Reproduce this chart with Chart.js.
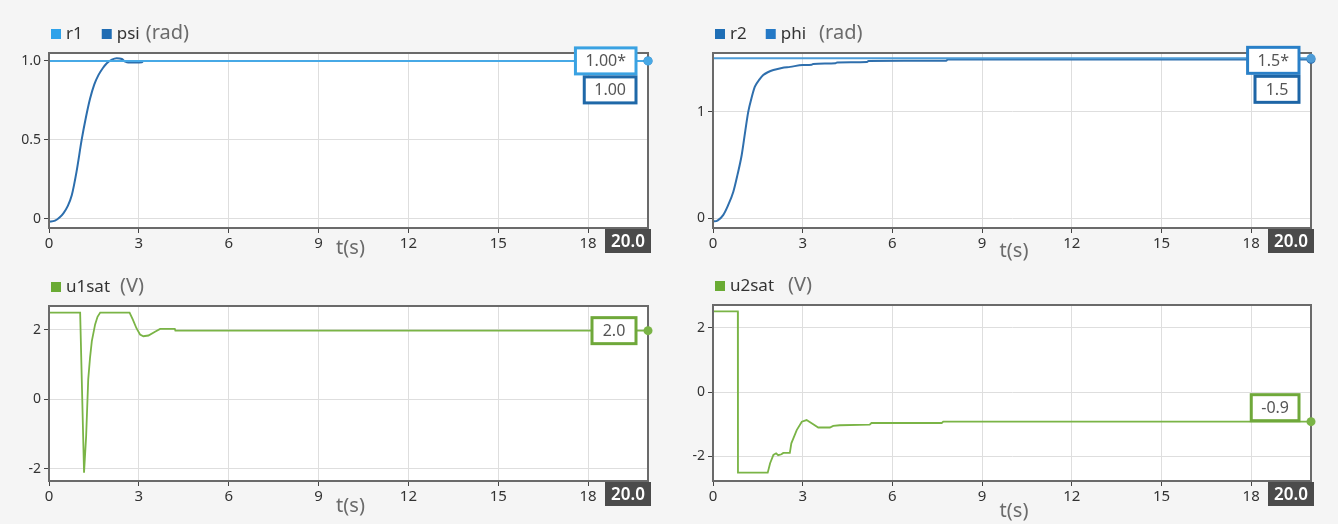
<!DOCTYPE html>
<html>
<head>
<meta charset="utf-8">
<script src="https://cdn.jsdelivr.net/npm/chart.js@4.4.1/dist/chart.umd.min.js"></script>
<style>
  html, body { margin: 0; padding: 0; background: #f5f5f5; width: 1338px; height: 524px; overflow: hidden; }
  canvas { position: absolute; display: block; }
</style>
</head>
<body>
<canvas id="cPsi" width="669" height="255" style="left:0;top:15px"></canvas>
<canvas id="cPhi" width="669" height="255" style="left:669px;top:15px"></canvas>
<canvas id="cU1" width="669" height="254" style="left:0;top:270px"></canvas>
<canvas id="cU2" width="669" height="254" style="left:669px;top:270px"></canvas>
<script>
// ---- time axis ----
const xTicks = [0, 3, 6, 9, 12, 15, 18];
const xLabels = ['0', '3', '6', '9', '12', '15', '18'];
const tEnd = 20;

// ---- yaw loop: reference r1 and response psi (rad) ----
const r1T = [0, 20];
const r1V = [1.0, 1.0];
const psiT = [0, 0.2, 0.35, 0.48, 0.62, 0.76, 0.92, 1.09, 1.23, 1.37, 1.51, 1.65, 1.8, 1.93, 2.1, 2.26, 2.43, 2.55, 2.65, 2.9, 3.1, 3.15, 20];
const psiV = [-0.017, -0.01, 0.01, 0.036, 0.08, 0.15, 0.3, 0.5, 0.64, 0.76, 0.85, 0.91, 0.955, 0.985, 1.008, 1.017, 1.012, 0.995, 0.99, 0.99, 0.992, 1.0, 1.0];
const psiYTicks = [0, 0.5, 1.0];
const psiYLabels = ['0', '0.5', '1.0'];

// ---- pitch loop: reference r2 and response phi (rad) ----
const r2T = [0, 20];
const r2V = [1.5, 1.5];
const phiT = [0, 0.15, 0.34, 0.5, 0.68, 0.82, 0.96, 1.08, 1.18, 1.3, 1.4, 1.55, 1.68, 1.85, 2.02, 2.3, 2.58, 3.0, 3.3, 3.35, 4.1, 4.15, 5.15, 5.2, 7.8, 7.85, 20];
const phiV = [-0.03, -0.02, 0.031, 0.12, 0.25, 0.41, 0.594, 0.82, 1.0, 1.14, 1.234, 1.3, 1.343, 1.372, 1.39, 1.41, 1.42, 1.437, 1.44, 1.448, 1.455, 1.462, 1.466, 1.475, 1.478, 1.49, 1.49];
const phiYTicks = [0, 1];
const phiYLabels = ['0', '1'];

// ---- saturated control voltages (V) ----
const u1T = [0, 1.04, 1.17, 1.24, 1.31, 1.37, 1.43, 1.54, 1.62, 1.71, 2.69, 2.8, 2.92, 3.04, 3.15, 3.32, 3.54, 3.71, 4.2, 4.22, 20];
const u1V = [2.5, 2.5, -2.11, -1.06, 0.58, 1.2, 1.68, 2.16, 2.38, 2.5, 2.5, 2.3, 2.05, 1.87, 1.82, 1.84, 1.95, 2.03, 2.03, 1.98, 1.98];
const u2T = [0, 0.83, 0.835, 1.83, 1.91, 2.02, 2.11, 2.18, 2.29, 2.35, 2.57, 2.62, 2.8, 2.97, 3.13, 3.3, 3.52, 3.91, 4.02, 4.24, 5.24, 5.3, 7.65, 7.7, 20];
const u2V = [2.5, 2.5, -2.5, -2.5, -2.21, -1.95, -1.9, -1.96, -1.93, -1.89, -1.89, -1.59, -1.18, -0.92, -0.87, -0.97, -1.1, -1.1, -1.05, -1.03, -1.01, -0.96, -0.96, -0.92, -0.92];
const uYTicks = [-2, 0, 2];
const uYLabels = ['-2', '0', '2'];

const FONT = "'Noto Sans', 'Open Sans', sans-serif";

// Scope-style decorations: plot background, frame, legend with unit,
// end-value readouts, end dots, time title and final-time badge.
const scopeDecor = {
  id: 'scopeDecor',
  beforeDraw(chart) {
    const a = chart.chartArea, ctx = chart.ctx;
    ctx.save();
    ctx.fillStyle = '#ffffff';
    ctx.fillRect(a.left, a.top, a.right - a.left, a.bottom - a.top);
    ctx.restore();
  },
  afterDatasetsDraw(chart) {
    const a = chart.chartArea, ctx = chart.ctx;
    ctx.save();
    ctx.strokeStyle = '#6a6a6a';
    ctx.lineWidth = 2;
    ctx.strokeRect(a.left, a.top, a.right - a.left, a.bottom - a.top);
    ctx.restore();
  },
  afterDraw(chart, args, opts) {
    const a = chart.chartArea, ctx = chart.ctx;
    const ys = chart.scales.y, xs = chart.scales.x;
    const sets = chart.data.datasets;
    ctx.save();

    // legend row
    let x = a.left + 2;
    const yc = a.top - 19;
    ctx.textBaseline = 'middle';
    ctx.textAlign = 'left';
    sets.forEach((ds, i) => {
      ctx.fillStyle = ds.legendColor;
      ctx.fillRect(x, yc - 5, 10, 10);
      x += 15;
      ctx.font = '17px ' + FONT;
      ctx.fillStyle = '#333333';
      ctx.fillText(ds.label, x, yc);
      x += ctx.measureText(ds.label).width + (i < sets.length - 1 ? 19 : opts.unitGap);
    });
    ctx.font = '20px ' + FONT;
    ctx.fillStyle = '#6b6b6b';
    ctx.fillText(opts.unit, x, yc - 1);

    // end dots on the right edge
    sets.slice().reverse().forEach(ds => {
      const last = ds.data[ds.data.length - 1];
      ctx.beginPath();
      ctx.arc(a.right, ys.getPixelForValue(last.y), 4.5, 0, Math.PI * 2);
      ctx.fillStyle = ds.borderColor;
      ctx.fill();
    });

    // end-value readout boxes
    ctx.font = '16px ' + FONT;
    ctx.textAlign = 'center';
    const baseY = ys.getPixelForValue(sets[0].data[sets[0].data.length - 1].y) + opts.boxShift;
    sets.forEach((ds, i) => {
      const last = ds.data[ds.data.length - 1].y;
      const txt = last.toFixed(opts.decimals) + (ds.isRef ? '*' : '');
      const w = Math.max(44, ctx.measureText(txt).width + 20);
      const h = 26;
      const cy = baseY + i * 29;
      const bx = a.right - 12 - w;
      ctx.fillStyle = '#ffffff';
      ctx.fillRect(bx, cy - h / 2, w, h);
      ctx.strokeStyle = ds.boxColor;
      ctx.lineWidth = 3;
      ctx.strokeRect(bx, cy - h / 2, w, h);
      ctx.fillStyle = '#555555';
      ctx.fillText(txt, bx + w / 2, cy + 1);
    });

    // time axis title
    ctx.font = '20px ' + FONT;
    ctx.fillStyle = '#6b6b6b';
    ctx.fillText('t(s)', (a.left + a.right) / 2 + 2, a.bottom + opts.titleDy);

    // final-time badge
    const bw = 46, bh = 24;
    const bx = xs.getPixelForValue(tEnd) - bw + 3;
    ctx.fillStyle = '#4b4b4b';
    ctx.fillRect(bx, a.bottom + 1, bw, bh);
    ctx.fillStyle = '#ffffff';
    ctx.font = '600 17px ' + FONT;
    ctx.fillText(tEnd.toFixed(1), bx + bw / 2, a.bottom + 1 + bh / 2 + 1);

    ctx.restore();
  }
};

function series(label, t, v, color, legendColor, boxColor, isRef, smooth, width) {
  return {
    label, isRef, legendColor, boxColor,
    data: t.map((tt, i) => ({ x: tt, y: v[i] })),
    borderColor: color,
    backgroundColor: color,
    borderWidth: width,
    pointRadius: 0,
    fill: false,
    cubicInterpolationMode: smooth ? 'monotone' : 'default'
  };
}

function scope(id, cfg) {
  const canvas = document.getElementById(id);
  const W = canvas.width, H = canvas.height;
  const area = cfg.area;
  return new Chart(canvas, {
    type: 'line',
    data: { datasets: cfg.datasets },
    options: {
      responsive: false,
      animation: false,
      events: [],
      layout: { padding: { left: 0, top: area.top, right: W - area.right, bottom: 0 } },
      plugins: {
        legend: { display: false },
        tooltip: { enabled: false },
        scopeDecor: cfg.decor
      },
      scales: {
        x: {
          type: 'linear', min: 0, max: tEnd,
          afterFit(s) { s.height = H - area.bottom; },
          afterBuildTicks(s) { s.ticks = xTicks.map(v => ({ value: v })); },
          ticks: {
            autoSkip: false, maxRotation: 0, padding: 2,
            color: '#333333', font: { family: FONT, size: 15 },
            callback: (v, i) => xLabels[i]
          },
          grid: { color: '#dedede', lineWidth: 1, tickColor: '#444444', tickLength: 5 },
          border: { color: '#4a4a4a', width: 2 }
        },
        y: {
          type: 'linear', min: cfg.yMin, max: cfg.yMax,
          afterFit(s) { s.width = area.left; },
          afterBuildTicks(s) { s.ticks = cfg.yTicks.map(v => ({ value: v })); },
          ticks: {
            autoSkip: false, padding: 3,
            color: '#333333', font: { family: FONT, size: 14 },
            callback: (v, i) => cfg.yLabels[i]
          },
          grid: { color: '#dedede', lineWidth: 1, tickColor: '#444444', tickLength: 5 },
          border: { color: '#4a4a4a', width: 2 }
        }
      }
    },
    plugins: [scopeDecor]
  });
}

scope('cPsi', {
  area: { left: 49, right: 648, top: 38, bottom: 213 },
  yMin: -0.057, yMax: 1.05, yTicks: psiYTicks, yLabels: psiYLabels,
  datasets: [
    series('r1', r1T, r1V, '#47a9e6', '#2ea2ea', '#3aa2e2', true, false, 2),
    series('psi', psiT, psiV, '#2c6ead', '#1f6cb3', '#1f68a8', false, true, 2)
  ],
  decor: { unit: '(rad)', unitGap: 6, decimals: 2, boxShift: 0, titleDy: 20 }
});

scope('cPhi', {
  area: { left: 44, right: 642, top: 38, bottom: 213 },
  yMin: -0.09, yMax: 1.55, yTicks: phiYTicks, yLabels: phiYLabels,
  datasets: [
    series('r2', r2T, r2V, '#4d9bd6', '#1f6fb6', '#2a80c8', true, false, 2),
    series('phi', phiT, phiV, '#2f6fad', '#2479c6', '#1d65a6', false, true, 2)
  ],
  decor: { unit: '(rad)', unitGap: 13, decimals: 1, boxShift: 2, titleDy: 23 }
});

scope('cU1', {
  area: { left: 49, right: 648, top: 36, bottom: 211 },
  yMin: -2.35, yMax: 2.69, yTicks: uYTicks, yLabels: uYLabels,
  datasets: [
    series('u1sat', u1T, u1V, '#7ab446', '#6aab34', '#6fa83a', false, false, 1.8)
  ],
  decor: { unit: '(V)', unitGap: 10, decimals: 1, boxShift: 0, titleDy: 25 }
});

scope('cU2', {
  area: { left: 44, right: 642, top: 35, bottom: 211 },
  yMin: -2.76, yMax: 2.70, yTicks: uYTicks, yLabels: uYLabels,
  datasets: [
    series('u2sat', u2T, u2V, '#7ab446', '#6aab34', '#6fa83a', false, false, 1.8)
  ],
  decor: { unit: '(V)', unitGap: 14, decimals: 1, boxShift: -14, titleDy: 30 }
});
</script>
</body>
</html>
